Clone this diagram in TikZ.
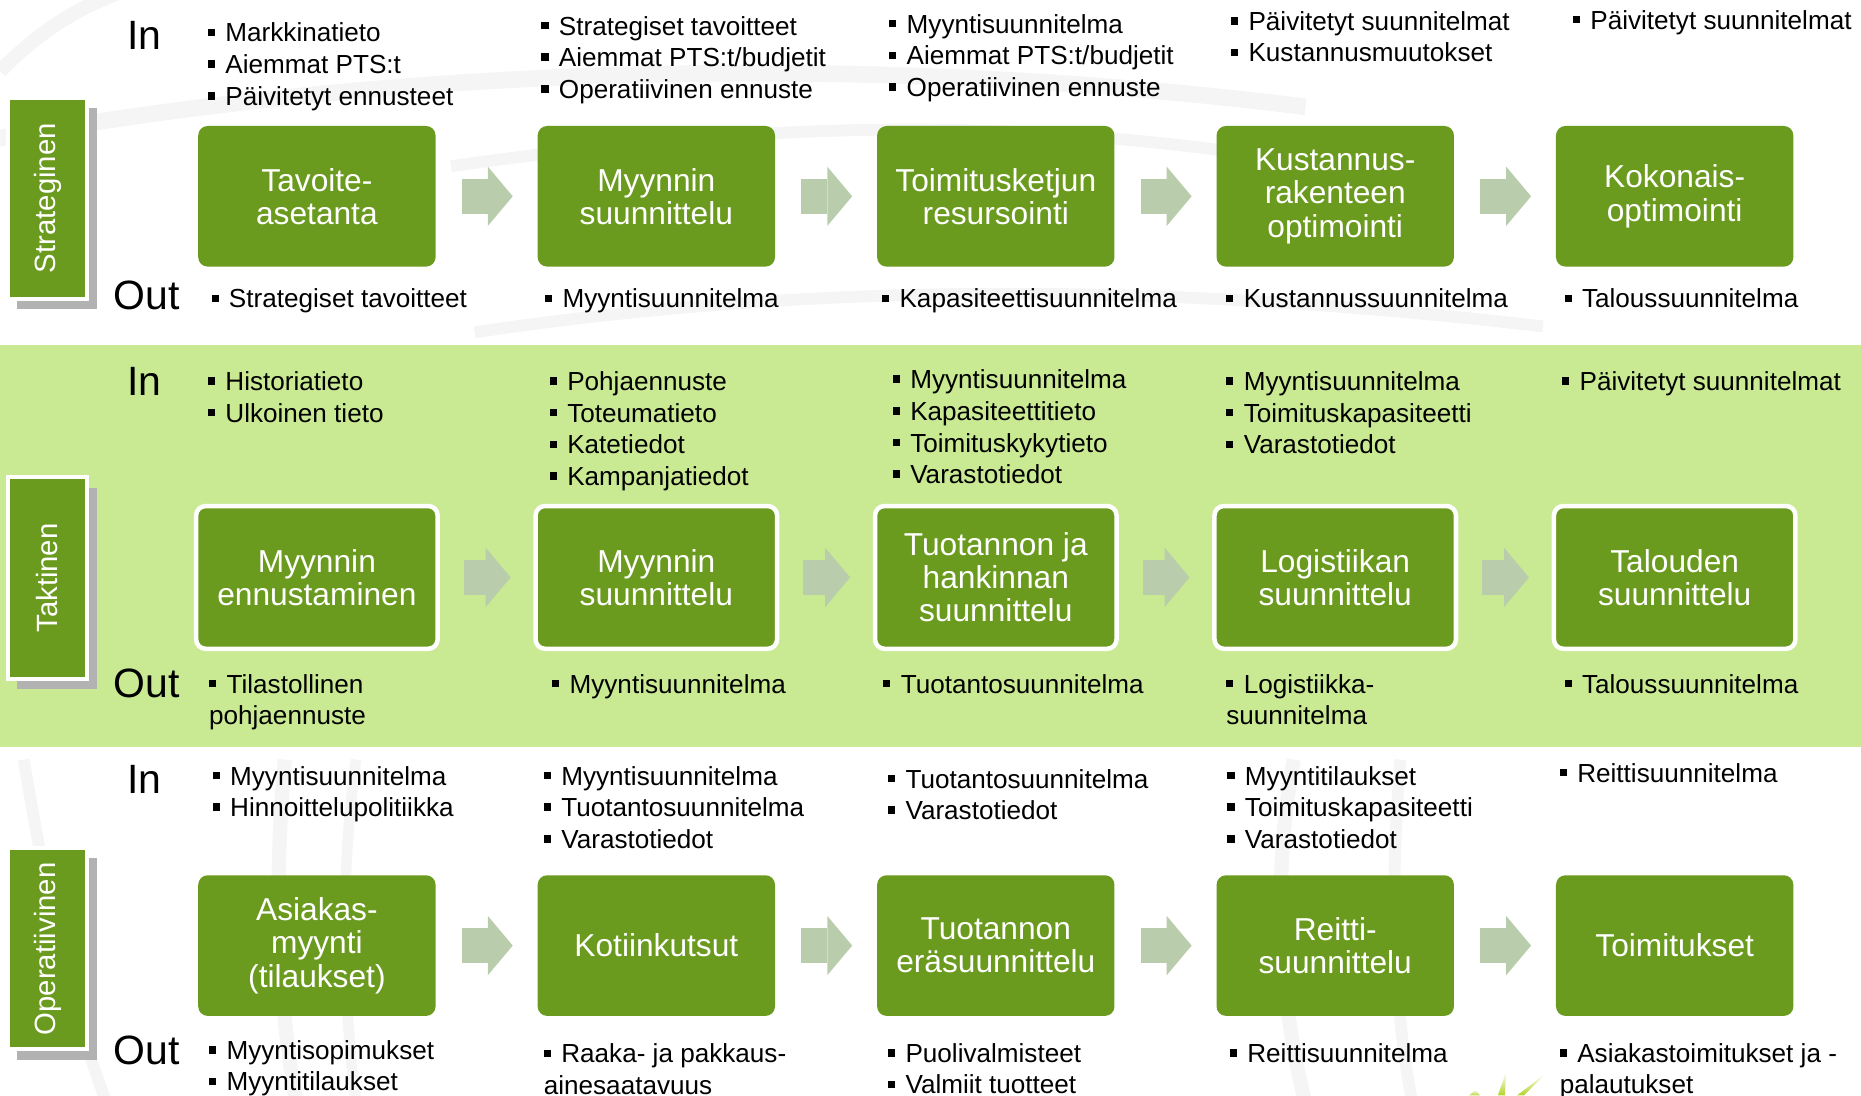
\documentclass[tikz,border=0pt]{standalone}
\usepackage{fontspec}
\setmainfont{Liberation Sans}
\usetikzlibrary{arrows.meta, shadows}

\definecolor{boxgreen}{RGB}{107,155,30}
\definecolor{bandgreen}{RGB}{201,234,146}
\definecolor{arrowgreen}{RGB}{185,204,171}
\definecolor{shadowgray}{RGB}{178,178,178}
\definecolor{swoosh}{RGB}{245,245,245}
\definecolor{sprout}{RGB}{178,212,40}

% small square bullet
\newcommand{\bul}{\rule[0.22em]{0.27em}{0.29em}\hspace{0.4em}}
% list whose baseline is its first line
\newcommand{\lst}[1]{\begin{tabular}[t]{@{}l@{}}#1\end{tabular}}

\tikzset{
  stage/.style={fill=boxgreen, rounded corners=8pt, minimum width=200pt,
    minimum height=118.5pt, text=white, align=center, inner sep=0pt,
    outer sep=0pt, font=\fontsize{26.7}{28}\selectfont},
  framed/.style={draw=white, line width=3.8pt, minimum width=203.5pt,
    minimum height=120.3pt},
  level/.style={fill=boxgreen, draw=white, line width=3.4pt,
    minimum width=66.7pt, minimum height=169.4pt, inner sep=0pt,
    drop shadow={shadow xshift=8pt, shadow yshift=-8.5pt,
      fill=shadowgray, opacity=1}},
  levellabel/.style={rotate=90, text=white, inner sep=0pt,
    font=\fontsize{24.7}{28}\selectfont},
  items/.style={anchor=base west, inner sep=0pt,
    font=\fontsize{22}{26.7}\selectfont},
  inout/.style={anchor=base west, inner sep=0pt,
    font=\fontsize{34.5}{40}\selectfont},
  flow/.style={arrowgreen, line width=29.5pt,
    -{Triangle[length=21pt, width=50pt, line width=0pt]},
    shorten <=22pt, shorten >=21pt}
}

\begin{document}
\begin{tikzpicture}[x=1pt, y=-1pt]

  % Page size
  \useasboundingbox (0,0) rectangle (1568,923);
  \clip (0,0) rectangle (1568,923);

  % Draw faint background swooshes
  \draw[swoosh, line width=14pt] (-20,120) .. controls (300,60) and (700,40) .. (1100,90);
  \draw[swoosh, line width=10pt] (380,140) .. controls (700,95) and (900,100) .. (1180,150);
  \draw[swoosh, line width=12pt] (0,60) .. controls (40,20) and (70,5) .. (110,-10);
  \draw[swoosh, line width=10pt] (400,280) .. controls (700,235) and (1000,240) .. (1300,275);
  \draw[swoosh, line width=12pt] (240,640) .. controls (230,750) and (235,850) .. (250,930);
  \draw[swoosh, line width=9pt] (300,640) .. controls (285,750) and (290,850) .. (300,930);
  \draw[swoosh, line width=12pt] (1090,640) .. controls (1070,750) and (1080,850) .. (1100,930);
  \draw[swoosh, line width=10pt] (1180,640) .. controls (1170,760) and (1175,850) .. (1190,930);
  \draw[swoosh, line width=10pt] (20,640) .. controls (40,760) and (60,850) .. (90,930);

  % Draw the middle band
  \fill[bandgreen] (0,290.7) rectangle (1568,629.5);

  % Draw level boxes on the left
  \foreach \name/\y/\txt in {strat/167/Strateginen, takt/487/Taktinen,
    oper/799.5/Operatiivinen}{
    \node[level] (\name) at (40,\y) {};
    \node[levellabel] (\name-label) at (\name) {\txt};
  }

  % Write In and Out headings
  \foreach \r/\yin/\yout in {1/41.6/261, 2/333/587.5, 3/668.4/897.3}{
    \node[inout] (in\r) at (107,\yin) {In};
    \node[inout] (out\r) at (95.5,\yout) {Out};
  }

  % Draw stage boxes, one row per level
  \foreach \c/\txt in {1/{Tavoite-\\asetanta}, 2/{Myynnin\\suunnittelu},
    3/{Toimitusketjun\\resursointi}, 4/{Kustannus-\\rakenteen\\optimointi},
    5/{Kokonais-\\optimointi}}{
    \node[stage] (s1\c) at ({267+286*(\c-1)},165.4) {\txt};
  }
  \foreach \c/\txt in {1/{Myynnin\\ennustaminen}, 2/{Myynnin\\suunnittelu},
    3/{Tuotannon ja\\hankinnan\\suunnittelu}, 4/{Logistiikan\\suunnittelu},
    5/{Talouden\\suunnittelu}}{
    \node[stage, framed] (s2\c) at ({267+286*(\c-1)},486.5) {\txt};
  }
  \foreach \c/\txt in {1/{Asiakas-\\myynti\\(tilaukset)}, 2/{Kotiinkutsut},
    3/{Tuotannon\\eräsuunnittelu}, 4/{Reitti-\\suunnittelu},
    5/{Toimitukset}}{
    \node[stage] (s3\c) at ({267+286*(\c-1)},796.7) {\txt};
  }

  % Draw arrows between stages
  \foreach \r in {1,2,3}{
    \foreach \c [evaluate=\c as \n using int(\c+1)] in {1,...,4}{
      \draw[flow] (s\r\c.east) -- (s\r\n.west);
    }
  }

  % Strategic inputs and outputs
  \node[items] (i11) at (175,35.3) {\lst{\bul Markkinatieto\\\bul Aiemmat PTS:t\\\bul Päivitetyt ennusteet}};
  \node[items] (i12) at (456,29.5) {\lst{\bul Strategiset tavoitteet\\\bul Aiemmat PTS:t/budjetit\\\bul Operatiivinen ennuste}};
  \node[items] (i13) at (749,28) {\lst{\bul Myyntisuunnitelma\\\bul Aiemmat PTS:t/budjetit\\\bul Operatiivinen ennuste}};
  \node[items] (i14) at (1037,25.5) {\lst{\bul Päivitetyt suunnitelmat\\\bul Kustannusmuutokset}};
  \node[items] (i15) at (1325,24.5) {\lst{\bul Päivitetyt suunnitelmat}};
  \node[items] (o11) at (178,259.5) {\lst{\bul Strategiset tavoitteet}};
  \node[items] (o12) at (459,259.5) {\lst{\bul Myyntisuunnitelma}};
  \node[items] (o13) at (743,259.5) {\lst{\bul Kapasiteettisuunnitelma}};
  \node[items] (o14) at (1033,259.5) {\lst{\bul Kustannussuunnitelma}};
  \node[items] (o15) at (1318,259.5) {\lst{\bul Taloussuunnitelma}};

  % Tactical inputs and outputs
  \node[items] (i21) at (175,329) {\lst{\bul Historiatieto\\\bul Ulkoinen tieto}};
  \node[items] (i22) at (463,329) {\lst{\bul Pohjaennuste\\\bul Toteumatieto\\\bul Katetiedot\\\bul Kampanjatiedot}};
  \node[items] (i23) at (752,327.5) {\lst{\bul Myyntisuunnitelma\\\bul Kapasiteettitieto\\\bul Toimituskykytieto\\\bul Varastotiedot}};
  \node[items] (i24) at (1033,329) {\lst{\bul Myyntisuunnitelma\\\bul Toimituskapasiteetti\\\bul Varastotiedot}};
  \node[items] (i25) at (1316,329) {\lst{\bul Päivitetyt suunnitelmat}};
  \node[items] (o21) at (176,584) {\lst{\bul Tilastollinen\\pohjaennuste}};
  \node[items] (o22) at (465,584) {\lst{\bul Myyntisuunnitelma}};
  \node[items] (o23) at (744,584) {\lst{\bul Tuotantosuunnitelma}};
  \node[items] (o24) at (1033,584) {\lst{\bul Logistiikka-\\suunnitelma}};
  \node[items] (o25) at (1318,584) {\lst{\bul Taloussuunnitelma}};

  % Operative inputs and outputs
  \node[items] (i31) at (179,661.5) {\lst{\bul Myyntisuunnitelma\\\bul Hinnoittelupolitiikka}};
  \node[items] (i32) at (458,661.5) {\lst{\bul Myyntisuunnitelma\\\bul Tuotantosuunnitelma\\\bul Varastotiedot}};
  \node[items] (i33) at (748,664) {\lst{\bul Tuotantosuunnitelma\\\bul Varastotiedot}};
  \node[items] (i34) at (1034,661.5) {\lst{\bul Myyntitilaukset\\\bul Toimituskapasiteetti\\\bul Varastotiedot}};
  \node[items] (i35) at (1314,659) {\lst{\bul Reittisuunnitelma}};
  \node[items] (o31) at (176,892.5) {\lst{\bul Myyntisopimukset\\\bul Myyntitilaukset}};
  \node[items] (o32) at (458,895.5) {\lst{\bul Raaka- ja pakkaus-\\ainesaatavuus}};
  \node[items] (o33) at (748,895) {\lst{\bul Puolivalmisteet\\\bul Valmiit tuotteet}};
  \node[items] (o34) at (1036,895) {\lst{\bul Reittisuunnitelma}};
  \node[items] (o35) at (1314,895) {\lst{\bul Asiakastoimitukset ja -\\palautukset}};

  % Green sprout at the bottom edge
  \shade[top color=white, bottom color=sprout] (1262,923) -- (1269,903) -- (1268,923) -- cycle;
  \shade[top color=white, bottom color=sprout] (1278,923) -- (1303,904) -- (1284,923) -- cycle;
  \shade[top color=white, bottom color=sprout] (1238,923) -- (1243,918) -- (1247,923) -- cycle;

\end{tikzpicture}
\end{document}
